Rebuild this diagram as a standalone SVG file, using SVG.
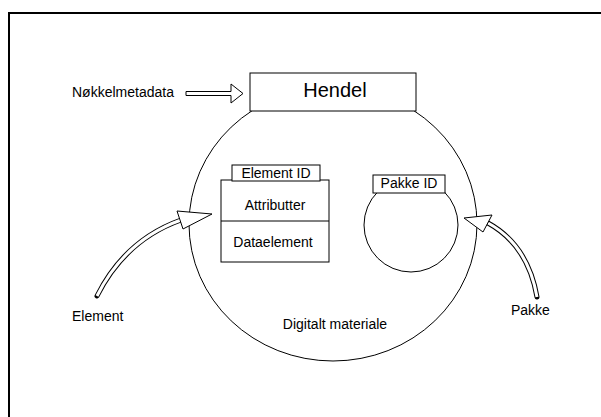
<svg xmlns="http://www.w3.org/2000/svg" width="601" height="417" viewBox="0 0 601 417">
<style>
.t{font-family:"Liberation Sans",Arial,sans-serif;font-size:14px;fill:#000}
.c{text-anchor:middle}
.s{fill:#fff;stroke:#000;stroke-width:1}
.sh{fill:none;stroke:#000;stroke-width:5;stroke-linecap:round}
.si{fill:none;stroke:#fff;stroke-width:3;stroke-linecap:butt}
</style>
<rect width="601" height="417" fill="#fff"/>
<rect x="9" y="13" width="620" height="420" fill="none" stroke="#000" stroke-width="2"/>
<g id="digitalt-materiale">
<ellipse cx="333" cy="224" rx="144" ry="137" fill="none" stroke="#000" stroke-width="1"/>
<text class="t c" x="335" y="329">Digitalt materiale</text>
</g>
<g id="hendel">
<rect class="s" x="250" y="73" width="166" height="38"/>
<text class="t c" x="335" y="97" style="font-size:20px">Hendel</text>
</g>
<g id="element-box">
<rect class="s" x="221" y="180" width="108" height="82"/>
<line x1="221" y1="221" x2="329" y2="221" stroke="#000" stroke-width="1"/>
<rect class="s" x="232" y="165" width="88" height="16"/>
<text class="t c" x="276" y="178">Element ID</text>
<text class="t c" x="275" y="210">Attributter</text>
<text class="t c" x="273" y="247">Dataelement</text>
</g>
<g id="pakke-box">
<circle class="s" cx="411" cy="225" r="47"/>
<rect class="s" x="373" y="175" width="72" height="18"/>
<text class="t c" x="409" y="188">Pakke ID</text>
</g>
<g id="labels">
<text class="t" x="72" y="97">Nøkkelmetadata</text>
<text class="t" x="72" y="321">Element</text>
<text class="t" x="511" y="315">Pakke</text>
</g>
<g id="connectors">
<path class="s" d="M186,91.5 H231 V84 L243,93.5 L231,103 V95.5 H186 Z"/>
<path class="sh" d="M97,296 Q125,240 181,220"/>
<path class="si" d="M97,296 Q125,240 181,220"/>
<polygon class="s" points="212,214 177,211 183,229"/>
<path class="sh" d="M537,297 Q528,245 488,223"/>
<path class="si" d="M537,297 Q528,245 488,223"/>
<polygon class="s" points="464,218 492,215 483,232"/>
</g>
</svg>
